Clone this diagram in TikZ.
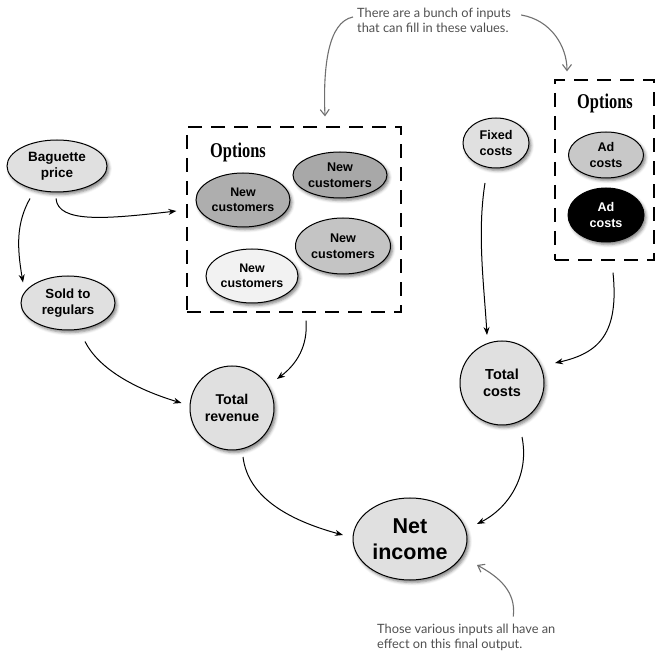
\documentclass[tikz,border=0pt]{standalone}
\usepackage{fontspec}
\setmainfont{Liberation Sans}
\newfontfamily\optfont[FakeStretch=0.78]{Liberation Serif}
\newfontfamily\handfont{Lato}
\usetikzlibrary{shapes.geometric,shadows.blur,arrows.meta}
\definecolor{nodegray}{HTML}{E0E0E0}
\definecolor{ncA}{HTML}{A8A8A8}
\definecolor{ncB}{HTML}{AEAEAE}
\definecolor{ncC}{HTML}{C4C4C4}
\definecolor{ncD}{HTML}{F2F2F2}
\definecolor{adA}{HTML}{C8C8C8}
\definecolor{anngray}{HTML}{707070}
\definecolor{notegray}{HTML}{505050}
\newcommand\nfont[2]{\fontsize{#1}{#2}\selectfont\bfseries}
\begin{document}
\begin{tikzpicture}[x=1pt,y=1pt,
  bubble/.style={ellipse, draw=black, line width=1pt, fill=nodegray, inner sep=0pt, align=center,
    blur shadow={shadow xshift=2pt,shadow yshift=-2.5pt,shadow blur radius=3pt,shadow opacity=50}},
  circ/.style={circle, draw=black, line width=1pt, fill=nodegray, inner sep=0pt, align=center,
    blur shadow={shadow xshift=2pt,shadow yshift=-2.5pt,shadow blur radius=3pt,shadow opacity=50}},
  dashbox/.style={draw, line width=1.2pt, dash pattern=on 14pt off 9pt, inner sep=0pt},
  arr/.style={-{Stealth[length=8pt,width=6pt]}, line width=1pt},
  garr/.style={-{Straight Barb[length=6pt,width=9pt]}, line width=1.1pt, draw=anngray},
  optlabel/.style={font=\optfont\bfseries\fontsize{21}{21}\selectfont, inner sep=0pt},
  note/.style={font=\handfont\fontsize{12.8}{15}\selectfont, text=notegray, align=left, inner sep=0pt}]

\useasboundingbox (0,0) rectangle (658,656);

% option boxes
\node[dashbox, minimum width=214, minimum height=185] (opt1) at (294,436.5) {};
\node[dashbox, minimum width=99, minimum height=180] (opt2) at (604.5,486) {};
\node[optlabel] (optL) at (238,504) {Options};
\node[optlabel] (optR) at (605,553) {Options};

% nodes
\node[bubble, minimum width=100, minimum height=52, font=\nfont{13.5}{16}] (bag) at (57,490) {Baguette\\price};
\node[bubble, minimum width=94, minimum height=54, font=\nfont{13.3}{16}] (sold) at (68,353) {Sold to\\regulars};
\node[bubble, fill=ncA, minimum width=94, minimum height=46, font=\nfont{12.6}{15.5}] (nc1) at (340,481) {New\\customers};
\node[bubble, fill=ncB, minimum width=94, minimum height=54, font=\nfont{12.4}{15.5}] (nc2) at (243,456) {New\\customers};
\node[bubble, fill=ncC, minimum width=95, minimum height=56, font=\nfont{12.6}{15.5}] (nc3) at (343,410) {New\\customers};
\node[bubble, fill=ncD, minimum width=92, minimum height=54, font=\nfont{12.4}{15.5}] (nc4) at (252,380) {New\\customers};
\node[bubble, minimum width=66, minimum height=50, font=\nfont{12.6}{15.5}] (fixed) at (496,513) {Fixed\\costs};
\node[bubble, fill=adA, minimum width=75, minimum height=46, font=\nfont{12.6}{15.5}] (ad1) at (606,501) {Ad\\costs};
\node[bubble, fill=black, text=white, minimum width=76, minimum height=54, font=\nfont{12.6}{15.5}] (ad2) at (606,441) {Ad\\costs};
\node[circ, minimum size=84, font=\nfont{14.2}{17.5}] (totrev) at (232,248) {Total\\revenue};
\node[circ, minimum size=84, font=\nfont{14.5}{17.5}] (totcost) at (502,273) {Total\\costs};
\node[bubble, minimum width=114, minimum height=82, font=\nfont{21.5}{26}] (net) at (410,117) {Net\\income};

% connectors
\draw[arr] ([shift={(-27,-6)}]bag.south) .. controls +(-14,-25) and +(-6,35) .. ([shift={(-45,-7)}]sold.north);
\draw[arr] ([shift={(-1,-6)}]bag.south) .. controls +(2,-25) and +(-70,-8) .. ([shift={(-10,8.5)}]opt1.west);
\draw[arr] ([shift={(17,-11)}]sold.south) .. controls +(15,-30) and +(-40,12) .. ([shift={(-8,5)}]totrev.west);
\draw[arr] ([shift={(12,-8)}]opt1.south) .. controls +(2,-25) and +(20,15) .. ([shift={(45,29)}]totrev.center);
\draw[arr] ([shift={(11,-49)}]totrev.center) .. controls +(5,-40) and +(-55,15) .. ([shift={(-67,4)}]net.center);
\draw[arr] ([shift={(20,-54)}]totcost.center) .. controls +(8,-40) and +(30,15) .. ([shift={(67,15)}]net.center);
\draw[arr] ([shift={(-11,-40)}]fixed.center) .. controls +(-8,-50) and +(-3,50) .. ([shift={(-15,48)}]totcost.center);
\draw[arr] ([shift={(8.5,-12)}]opt2.south) .. controls +(6,-60) and +(45,10) .. ([shift={(53,20)}]totcost.center);

% annotations
\node[note, anchor=west] (note1) at (357,636) {There are a bunch of inputs\\that can fill in these values.};
\draw[garr] ([shift={(-4,3)}]note1.west) .. controls +(-25,-5) and +(-2,50) .. ([shift={(31,10)}]opt1.north);
\draw[garr] ([shift={(10,5)}]note1.east) .. controls +(30,-5) and +(0,25) .. ([shift={(-37.5,8)}]opt2.north);

\node[note, anchor=west] (note2) at (377,19) {Those various inputs all have an\\effect on this final output.};
\draw[garr] ([shift={(47,7)}]note2.north) .. controls +(3,25) and +(22,-12) .. ([shift={(67,-26)}]net.center);
\end{tikzpicture}
\end{document}
